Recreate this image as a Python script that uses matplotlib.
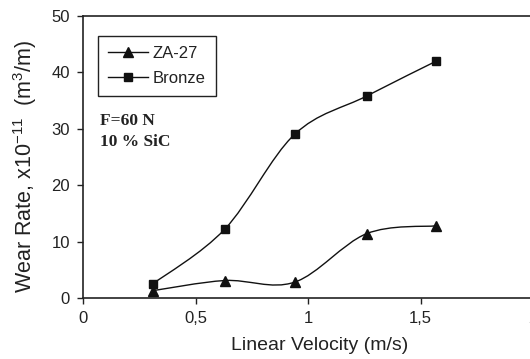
import matplotlib

matplotlib.use("Agg")
import matplotlib.pyplot as plt
import numpy as np
from matplotlib.lines import Line2D
from matplotlib.patches import PathPatch
from matplotlib.path import Path

velocity = [0.31, 0.63, 0.94, 1.26, 1.57]
za27 = [1.3, 3.1, 2.8, 11.4, 12.8]
bronze = [2.5, 12.2, 29.0, 35.8, 42.0]
xticks = [0, 0.5, 1, 1.5, 2]
xtick_labels = ["0", "0,5", "1", "1,5", "2"]
yticks = [0, 10, 20, 30, 40, 50]

plt.rcParams["font.family"] = ["Liberation Sans", "DejaVu Sans"]
plt.rcParams["mathtext.fontset"] = "custom"
plt.rcParams["mathtext.rm"] = "Liberation Sans"


def smooth_path(x, y):
    # Catmull-Rom style cubic Bezier through the data points (Excel "smoothed line")
    pts = np.column_stack([x, y])
    ext = np.vstack([pts[0], pts, pts[-1]])
    verts = [pts[0]]
    codes = [Path.MOVETO]
    for i in range(1, len(ext) - 2):
        p0, p1, p2, p3 = ext[i - 1], ext[i], ext[i + 1], ext[i + 2]
        verts += [p1 + (p2 - p0) / 6, p2 - (p3 - p1) / 6, p2]
        codes += [Path.CURVE4] * 3
    return Path(verts, codes)


fig = plt.figure(figsize=(5.3, 3.59), dpi=100)
ax = fig.add_axes([83 / 530, 61 / 359, 450 / 530, 282 / 359])

for ys, marker, ms in [(za27, "^", 7.5), (bronze, "s", 6.2)]:
    ax.add_patch(PathPatch(smooth_path(velocity, ys), fill=False, lw=1.0, ec="#111111"))
    ax.plot(velocity, ys, ls="none", marker=marker, ms=ms, color="#111111")

ax.set_xlim(0, 2)
ax.set_ylim(0, 50)
ax.set_xticks(xticks)
ax.set_xticklabels(xtick_labels)
ax.set_yticks(yticks)
ax.tick_params(direction="out", length=4.5, width=1, pad=5, labelsize=12, colors="#222222")
ax.spines["right"].set_visible(False)
for s in ax.spines.values():
    s.set_linewidth(1.2)
    s.set_color("#222222")

ax.set_xlabel("Linear Velocity (m/s)", fontsize=14, color="#222222")
ax.xaxis.set_label_coords(0.526, -0.138, transform=ax.transAxes)
ax.xaxis.label.set_va("top")
ax.set_ylabel("Wear Rate, x10$^{\\mathrm{-11}}$  (m$^{\\mathrm{3}}$/m)", fontsize=15.5,
              color="#222222")
ax.yaxis.set_label_coords(-0.097, 0.468, transform=ax.transAxes)

handles = [
    Line2D([], [], color="#111111", lw=1.0, marker="^", ms=7.5),
    Line2D([], [], color="#111111", lw=1.0, marker="s", ms=6.2),
]
leg = ax.legend(handles, ["ZA-27", "Bronze"], loc="upper left",
                bbox_to_anchor=(0.033, 0.929), borderaxespad=0, fontsize=12,
                handlelength=2.4, handletextpad=0.3, labelspacing=0.6, borderpad=0.6,
                fancybox=False, framealpha=1, edgecolor="#222222")
leg.get_frame().set_linewidth(1)
for t in leg.get_texts():
    t.set_color("#222222")

ax.text(0.037, 0.655, "F=60 N\n10 % SiC", transform=ax.transAxes,
        family="Liberation Serif", weight="bold", fontsize=12.5,
        va="top", linespacing=1.4, color="#222222")

fig.savefig("out.png", dpi=100)
